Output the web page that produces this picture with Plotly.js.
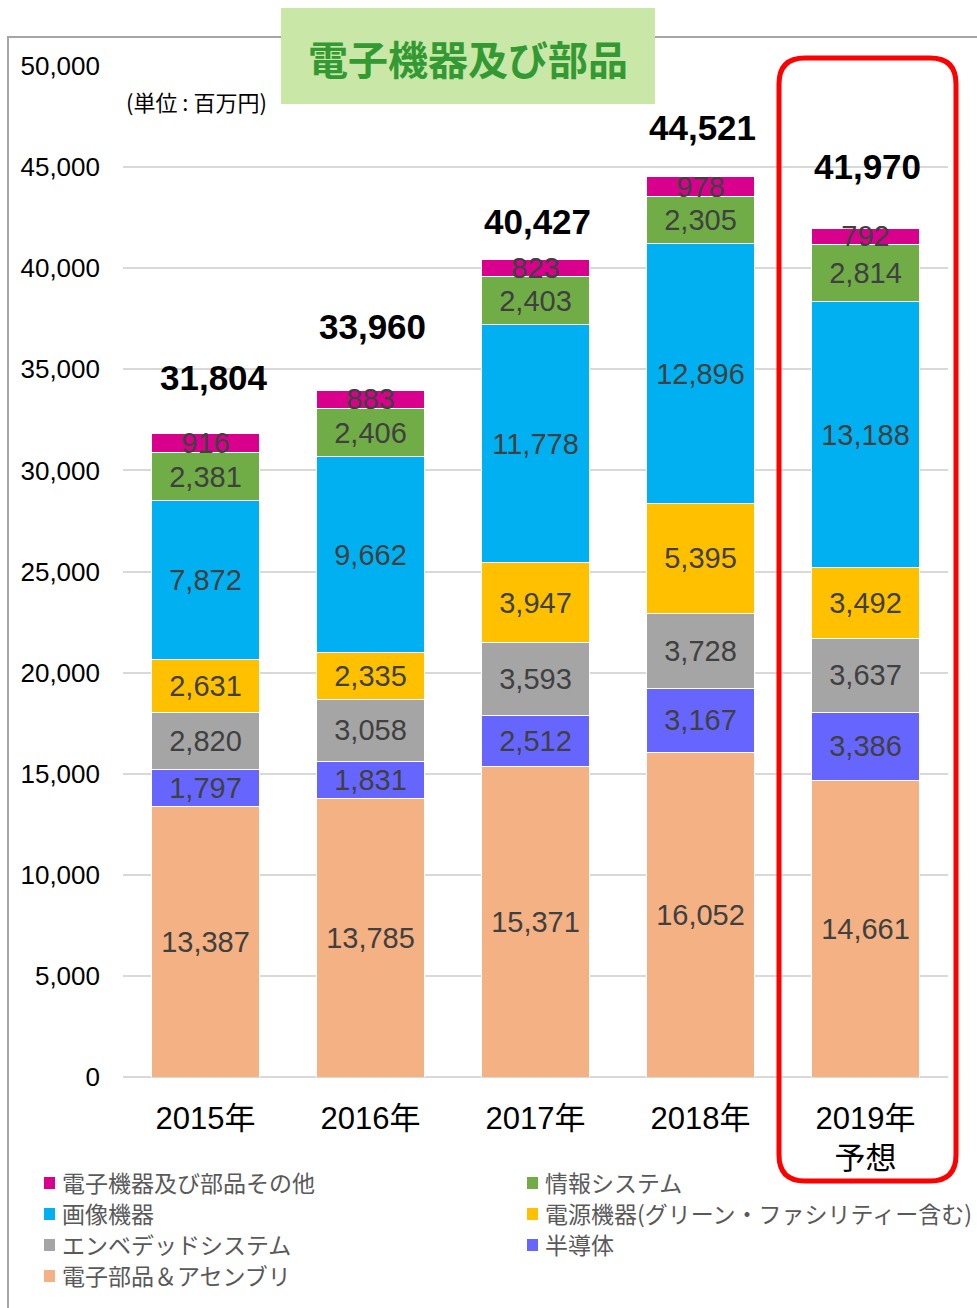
<!DOCTYPE html>
<html>
<head>
<meta charset="utf-8">
<script src="https://cdn.plot.ly/plotly-3.0.1.min.js"></script>
<style>
  body { margin: 0; background: #fff; }
  #plot { width: 977px; height: 1308px; }
</style>
</head>
<body>
<div id="plot"></div>
<script>
// categories (x axis)
const years = ["2015年", "2016年", "2017年", "2018年", "2019年<br>予想"];

// series values, bottom of the stack first (単位: 百万円)
const assembly = [13387, 13785, 15371, 16052, 14661];   // 電子部品＆アセンブリ
const semi = [1797, 1831, 2512, 3167, 3386];            // 半導体
const embedded = [2820, 3058, 3593, 3728, 3637];        // エンベデッドシステム
const power = [2631, 2335, 3947, 5395, 3492];           // 電源機器
const imaging = [7872, 9662, 11778, 12896, 13188];      // 画像機器
const infoSys = [2381, 2406, 2403, 2305, 2814];         // 情報システム
const others = [916, 883, 823, 978, 792];               // 電子機器及び部品その他

const totals = [31804, 33960, 40427, 44521, 41970];

const FONT = "Liberation Sans, Arial, Noto Sans CJK JP, sans-serif";
const JP = "Noto Sans CJK JP, Liberation Sans, sans-serif";

const series = [
  { name: "電子部品＆アセンブリ", y: assembly, color: "#F4B183" },
  { name: "半導体", y: semi, color: "#6666FF" },
  { name: "エンベデッドシステム", y: embedded, color: "#A5A5A5" },
  { name: "電源機器(グリーン・ファシリティー含む)", y: power, color: "#FFC000" },
  { name: "画像機器", y: imaging, color: "#00B0F0" },
  { name: "情報システム", y: infoSys, color: "#70AD47" },
  { name: "電子機器及び部品その他", y: others, color: "#D9008D" }
];

const traces = series.map(s => ({
  type: "bar",
  name: s.name,
  x: years,
  y: s.y,
  text: s.y.map(v => v.toLocaleString("en-US")),
  textposition: "inside",
  insidetextanchor: "middle",
  textangle: 0,
  constraintext: "none",
  textfont: { family: FONT, size: 29, color: "#404040" },
  marker: { color: s.color, line: { color: "#ffffff", width: 1 } },
  hoverinfo: "none"
}));

// pixel -> paper helpers (plot area 123..948 x 66..1077)
const px = v => (v - 123) / 825;
const py = v => (1077 - v) / 1011;

// total labels above the stacks
const totalShift = [56, 64, 38, 49, 62];
const annotations = totals.map((t, i) => ({
  x: years[i], y: t, xref: "x", yref: "y",
  text: "<b>" + t.toLocaleString("en-US") + "</b>",
  showarrow: false, yanchor: "middle", yshift: totalShift[i], xshift: i === 0 ? 8 : 2,
  font: { family: FONT, size: 35, color: "#000000" }
}));

annotations.push({
  x: px(468), y: py(58), xref: "paper", yref: "paper", xanchor: "center", yanchor: "middle",
  text: "<b>電子機器及び部品</b>", showarrow: false,
  font: { family: JP, size: 40, color: "#339933" }
});
annotations.push({
  x: px(124), y: py(101), xref: "paper", yref: "paper", xanchor: "left", yanchor: "middle",
  text: "(単位 : 百万円)", showarrow: false,
  font: { family: JP, size: 22, color: "#000000" }
});

// legend drawn by hand: two columns, rows of 31px
const legendOrder = [6, 5, 4, 3, 2, 1, 0];
const shapes = [
  { type: "rect", xref: "paper", yref: "paper", x0: px(8), x1: px(990), y0: py(1320), y1: py(37),
    line: { color: "#A6A6A6", width: 2 }, layer: "below" },
  { type: "rect", xref: "paper", yref: "paper", x0: px(281), x1: px(655), y0: py(104), y1: py(8),
    fillcolor: "#C9E7A7", line: { width: 0 }, layer: "above" }
];
legendOrder.forEach((k, j) => {
  const col = j % 2, row = Math.floor(j / 2);
  const sx = col === 0 ? 44 : 527;
  const sy = 1183 + row * 31;
  shapes.push({ type: "rect", xref: "paper", yref: "paper",
    x0: px(sx), x1: px(sx + 11), y0: py(sy + 6), y1: py(sy - 6),
    fillcolor: series[k].color, line: { width: 0 } });
  annotations.push({ x: px(sx + 16), y: py(sy - 1), xref: "paper", yref: "paper",
    xanchor: "left", yanchor: "middle", showarrow: false, text: series[k].name,
    font: { family: JP, size: 23, color: "#595959" } });
});

// rounded red frame around the 2019 forecast
const rx = 26 / 825, ry = 26 / 1011;
const x0 = px(779), x1 = px(956), y0 = py(1181), y1 = py(58);
const redPath = `M${x0 + rx},${y1} L${x1 - rx},${y1} Q${x1},${y1} ${x1},${y1 - ry} ` +
  `L${x1},${y0 + ry} Q${x1},${y0} ${x1 - rx},${y0} L${x0 + rx},${y0} Q${x0},${y0} ${x0},${y0 + ry} ` +
  `L${x0},${y1 - ry} Q${x0},${y1} ${x0 + rx},${y1} Z`;
shapes.push({ type: "path", xref: "paper", yref: "paper", path: redPath,
  line: { color: "#FF0000", width: 5 }, layer: "above" });

const layout = {
  width: 977,
  height: 1308,
  margin: { l: 123, r: 29, t: 66, b: 231, autoexpand: false },
  paper_bgcolor: "#ffffff",
  plot_bgcolor: "#ffffff",
  barmode: "stack",
  bargap: 0.35,
  font: { family: FONT, color: "#000000" },
  showlegend: false,
  xaxis: {
    type: "category",
    tickfont: { family: FONT, size: 31, color: "#000000" },
    ticklabelstandoff: 20,
    showgrid: false, showline: false, ticks: ""
  },
  yaxis: {
    range: [0, 50000],
    dtick: 5000,
    tickformat: ",d",
    tickfont: { family: FONT, size: 26, color: "#000000" },
    ticklabelstandoff: 22,
    gridcolor: "#D9D9D9", gridwidth: 2,
    zeroline: true, zerolinecolor: "#D9D9D9", zerolinewidth: 2,
    showline: false, ticks: ""
  },
  shapes: shapes,
  annotations: annotations
};

Plotly.newPlot("plot", traces, layout, { displayModeBar: false, staticPlot: true });
</script>
</body>
</html>
